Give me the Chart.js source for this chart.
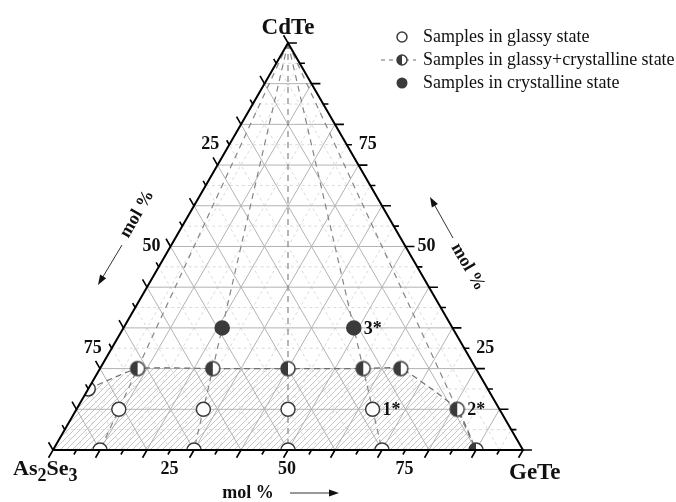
<!DOCTYPE html>
<html lang="en">
<head>
  <meta charset="UTF-8" />
  <title>CdTe - GeTe - As2Se3</title>
  <script src="https://cdn.jsdelivr.net/npm/chart.js"></script>
  <style>
    * { margin: 0; padding: 0; box-sizing: border-box; }
    body { background: #fff; }
  </style>
</head>
<body>
  <canvas id="ternary" width="676" height="502"></canvas>

  <script>
    // compositions in mol % (CdTe, GeTe); As2Se3 is the remainder
    const glassyCdTe = [0, 0, 0, 0, 10, 10, 10, 10, 15];
    const glassyGeTe = [10, 30, 50, 70, 9, 27, 45, 63, 0];
    const mixedCdTe = [0, 10, 20, 20, 20, 20, 20];
    const mixedGeTe = [90, 81, 8, 24, 40, 56, 64];
    const crystCdTe = [30, 30];
    const crystGeTe = [21, 49];

    // glass-forming region boundary
    const boundCdTe = [15, 20, 20, 20, 20, 20, 10, 0];
    const boundGeTe = [0, 8, 24, 40, 56, 64, 81, 90];

    // sections from the CdTe corner (GeTe share on the As2Se3-GeTe side)
    const rayGeTe = [10, 30, 50, 70, 90];

    // numbered samples
    const markNames = ['1*', '2*', '3*'];
    const markCdTe = [10, 10, 30];
    const markGeTe = [63, 81, 49];

    const gridSteps = [5, 10, 15, 20, 25, 30, 35, 40, 45, 50, 55, 60, 65, 70, 75, 80, 85, 90, 95];
    const tickSteps = [0, 5, 10, 15, 20, 25, 30, 35, 40, 45, 50, 55, 60, 65, 70, 75, 80, 85, 90, 95, 100];
    const tickLabels = [25, 50, 75];
    const cornerNames = ['CdTe', 'As2Se3', 'GeTe'];
    const axisTitle = 'mol %';
    const legendNames = ['Samples in glassy state', 'Samples in glassy+crystalline state', 'Samples in crystalline state'];

    const SERIF = '"Liberation Serif", "Times New Roman", serif';
    const DARK = '#3b3b3b';
    const H = Math.sqrt(3) / 2;

    // ternary -> cartesian (side = 100)
    function tern(c, g) { return { x: g + c / 2, y: c * H }; }
    const pairs = (cs, gs) => cs.map((c, i) => tern(c, gs[i]));

    function segments(list) {
      const out = [];
      list.forEach(([a, b]) => { out.push(a, b, { x: null, y: null }); });
      return out;
    }

    // grid
    const majorSeg = [], minorSeg = [];
    gridSteps.forEach(v => {
      const seg = [
        [tern(v, 0), tern(v, 100 - v)],
        [tern(0, v), tern(100 - v, v)],
        [tern(0, 100 - v), tern(100 - v, 0)]
      ];
      (v % 10 === 0 ? majorSeg : minorSeg).push(...seg);
    });

    // ticks pointing outwards along the grid direction
    const tickSeg = [];
    tickSteps.forEach(v => {
      const len = v % 10 === 0 ? 1.9 : 1.1;
      const b = tern(0, v);
      tickSeg.push([b, { x: b.x - 0.5 * len, y: b.y - H * len }]);
      const r = tern(v, 100 - v);
      tickSeg.push([r, { x: r.x + len, y: r.y }]);
      const l = tern(100 - v, 0);
      tickSeg.push([l, { x: l.x - 0.5 * len, y: l.y + H * len }]);
    });

    const raySeg = rayGeTe.map(g => [tern(100, 0), tern(0, g)]);
    const frame = [tern(0, 0), tern(0, 100), tern(100, 0), tern(0, 0)];

    // point symbols
    function halfDisc(r, lw) {
      const s = Math.ceil(2 * r + lw + 2);
      const cv = document.createElement('canvas');
      cv.width = cv.height = s;
      const g = cv.getContext('2d');
      const c = s / 2;
      g.fillStyle = '#fff';
      g.beginPath(); g.arc(c, c, r, 0, 2 * Math.PI); g.fill();
      g.fillStyle = DARK;
      g.beginPath(); g.moveTo(c, c - r); g.arc(c, c, r, -Math.PI / 2, Math.PI / 2, true); g.closePath(); g.fill();
      g.strokeStyle = DARK; g.lineWidth = lw;
      g.beginPath(); g.arc(c, c, r, 0, 2 * Math.PI); g.stroke();
      return cv;
    }
    function hatch() {
      const cv = document.createElement('canvas');
      cv.width = cv.height = 6;
      const g = cv.getContext('2d');
      g.strokeStyle = '#b9b9b9'; g.lineWidth = 0.8;
      g.beginPath();
      g.moveTo(0, 6); g.lineTo(6, 0);
      g.moveTo(-1, 1); g.lineTo(1, -1);
      g.moveTo(5, 7); g.lineTo(7, 5);
      g.stroke();
      return g.createPattern(cv, 'repeat');
    }
    const halfBig = halfDisc(7, 1.5);
    const halfSmall = halfDisc(5, 1.5);

    // view: 4.7 px per unit, As2Se3 corner at (53, 450)
    const pxU = 4.7, ox = 53, oy = 450, W = 676, Hh = 502;

    const lineDefaults = { showLine: true, pointRadius: 0, fill: false, tension: 0 };

    const datasets = [
      { ...lineDefaults, data: frame, borderColor: '#000', borderWidth: 2, order: -1 },
      { ...lineDefaults, data: segments(tickSeg), borderColor: '#000', borderWidth: 1.6, order: -1 },
      { data: pairs(crystCdTe, crystGeTe), showLine: false, pointRadius: 7, pointStyle: 'circle',
        backgroundColor: DARK, borderColor: DARK, borderWidth: 1.5, order: 0, triClip: true },
      { data: pairs(mixedCdTe, mixedGeTe), showLine: false, pointRadius: 7, pointStyle: halfBig, order: 0, triClip: true },
      { data: pairs(glassyCdTe, glassyGeTe), showLine: false, pointRadius: 7, pointStyle: 'circle',
        backgroundColor: '#fff', borderColor: DARK, borderWidth: 1.5, order: 0, triClip: true },
      { ...lineDefaults, data: pairs(boundCdTe, boundGeTe), borderColor: '#6e6e6e', borderWidth: 1.2,
        borderDash: [6, 4], tension: 0.15, order: 1 },
      { ...lineDefaults, data: segments(raySeg), borderColor: '#858585', borderWidth: 1.2, borderDash: [6, 5], order: 2 },
      { ...lineDefaults, data: segments(majorSeg), borderColor: '#b3b3b3', borderWidth: 1, order: 4 },
      { ...lineDefaults, data: segments(minorSeg), borderColor: '#dadada', borderWidth: 1, borderDash: [3, 3], order: 5 },
      { ...lineDefaults, data: [tern(0, 0)].concat(pairs(boundCdTe, boundGeTe)), borderWidth: 0, borderColor: 'rgba(0,0,0,0)',
        fill: 'origin', backgroundColor: hatch(), order: 6 }
    ];

    function toPx(chart, p) {
      return { x: chart.scales.x.getPixelForValue(p.x), y: chart.scales.y.getPixelForValue(p.y) };
    }

    const triClip = {
      id: 'triClip',
      beforeDatasetDraw(chart, args) {
        if (!chart.data.datasets[args.index].triClip) return;
        const ctx = chart.ctx;
        const a = toPx(chart, tern(0, 0)), b = toPx(chart, tern(0, 100)), c = toPx(chart, tern(100, 0));
        ctx.save();
        ctx.beginPath(); ctx.moveTo(a.x, a.y); ctx.lineTo(b.x, b.y); ctx.lineTo(c.x, c.y); ctx.closePath();
        ctx.clip();
      },
      afterDatasetDraw(chart, args) {
        if (chart.data.datasets[args.index].triClip) chart.ctx.restore();
      }
    };

    function formula(ctx, text, x, y, size, sub) {
      let cx = x;
      for (const ch of text) {
        const isSub = /[0-9]/.test(ch);
        ctx.font = 'bold ' + (isSub ? sub : size) + 'px ' + SERIF;
        ctx.fillText(ch, cx, isSub ? y + 6 : y);
        cx += ctx.measureText(ch).width;
      }
    }
    function arrow(ctx, x1, y1, x2, y2) {
      const ang = Math.atan2(y2 - y1, x2 - x1);
      ctx.beginPath(); ctx.moveTo(x1, y1); ctx.lineTo(x2 - 7 * Math.cos(ang), y2 - 7 * Math.sin(ang)); ctx.stroke();
      ctx.beginPath();
      ctx.moveTo(x2, y2);
      ctx.lineTo(x2 - 10 * Math.cos(ang) + 3.5 * Math.sin(ang), y2 - 10 * Math.sin(ang) - 3.5 * Math.cos(ang));
      ctx.lineTo(x2 - 10 * Math.cos(ang) - 3.5 * Math.sin(ang), y2 - 10 * Math.sin(ang) + 3.5 * Math.cos(ang));
      ctx.closePath(); ctx.fill();
    }
    function rotText(ctx, text, x, y, deg) {
      ctx.save(); ctx.translate(x, y); ctx.rotate(deg * Math.PI / 180);
      ctx.fillText(text, 0, 0); ctx.restore();
    }

    const labels = {
      id: 'labels',
      afterDraw(chart) {
        const ctx = chart.ctx;
        const top = toPx(chart, tern(100, 0)), left = toPx(chart, tern(0, 0)), right = toPx(chart, tern(0, 100));
        ctx.save();
        ctx.fillStyle = '#111';
        ctx.strokeStyle = '#333';
        ctx.lineWidth = 1;

        // corners
        ctx.textAlign = 'center'; ctx.textBaseline = 'alphabetic';
        ctx.font = 'bold 23px ' + SERIF;
        ctx.fillText(cornerNames[0], top.x, top.y - 9);
        ctx.textAlign = 'left';
        formula(ctx, cornerNames[1], left.x - 40, left.y + 25, 22, 18);
        ctx.font = 'bold 23px ' + SERIF;
        ctx.fillText(cornerNames[2], right.x - 14, right.y + 29);

        // tick labels
        ctx.font = 'bold 18px ' + SERIF;
        ctx.textAlign = 'center'; ctx.textBaseline = 'middle';
        tickLabels.forEach(v => {
          const b = toPx(chart, tern(0, v));
          ctx.fillText(String(v), b.x - 1, b.y + 19);
          const l = toPx(chart, tern(100 - v, 0));
          ctx.fillText(String(v), l.x - 19, l.y);
          const r = toPx(chart, tern(v, 100 - v));
          ctx.fillText(String(v), r.x + 21, r.y);
        });

        // axis titles
        ctx.fillText(axisTitle, left.x + 195, left.y + 43);
        arrow(ctx, left.x + 237, left.y + 43, left.x + 286, left.y + 43);
        rotText(ctx, axisTitle, left.x + 84, left.y - 236, -60);
        arrow(ctx, left.x + 69, left.y - 205, left.x + 45, left.y - 165);
        rotText(ctx, axisTitle, right.x - 55, right.y - 183, 60);
        arrow(ctx, right.x - 70, right.y - 212, right.x - 93, right.y - 253);

        // numbered samples
        ctx.textAlign = 'left';
        markNames.forEach((n, i) => {
          const p = toPx(chart, tern(markCdTe[i], markGeTe[i]));
          ctx.fillText(n, p.x + 10, p.y + 1);
        });

        // legend
        const lx = 402, tx = 423, rows = [37, 60, 83];
        ctx.font = '18px ' + SERIF;
        ctx.fillStyle = '#111';
        rows.forEach((y, i) => ctx.fillText(legendNames[i], tx, y));
        ctx.strokeStyle = DARK; ctx.lineWidth = 1.5;
        ctx.fillStyle = '#fff';
        ctx.beginPath(); ctx.arc(lx, rows[0], 5, 0, 2 * Math.PI); ctx.fill(); ctx.stroke();
        ctx.save();
        ctx.strokeStyle = '#6e6e6e'; ctx.lineWidth = 1.2; ctx.setLineDash([4, 4]);
        ctx.beginPath(); ctx.moveTo(381, rows[1]); ctx.lineTo(416, rows[1]); ctx.stroke();
        ctx.restore();
        ctx.drawImage(halfSmall, lx - halfSmall.width / 2, rows[1] - halfSmall.height / 2);
        ctx.fillStyle = DARK;
        ctx.beginPath(); ctx.arc(lx, rows[2], 5.5, 0, 2 * Math.PI); ctx.fill();
        ctx.restore();
      }
    };

    new Chart(document.getElementById('ternary'), {
      type: 'line',
      data: { datasets },
      options: {
        responsive: false,
        animation: false,
        events: [],
        layout: { padding: 0, autoPadding: false },
        plugins: { legend: { display: false }, tooltip: { enabled: false } },
        scales: {
          x: { type: 'linear', display: false, min: -ox / pxU, max: (W - ox) / pxU },
          y: { type: 'linear', display: false, min: -(Hh - oy) / pxU, max: oy / pxU }
        }
      },
      plugins: [triClip, labels]
    });
  </script>
</body>
</html>
